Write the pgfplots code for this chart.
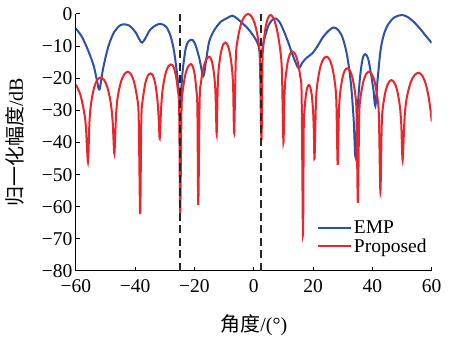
\documentclass[border=0pt]{standalone}
\usepackage{pgfplots}
\pgfplotsset{compat=1.18}
\usepackage{fontspec}
\setmainfont{Liberation Serif}
\newfontfamily\cjk{Noto Sans CJK SC}
\definecolor{empblue}{RGB}{44,79,168}
\definecolor{propred}{RGB}{234,38,44}
\begin{document}
\begin{tikzpicture}
\begin{axis}[
  scale only axis, width=355.9pt, height=257pt,
  xmin=-60, xmax=60, ymin=-80, ymax=0,
  axis x line*=bottom, axis y line*=left,
  xtick={-60,-40,-20,0,20,40,60}, xticklabels={−60,−40,−20,0,20,40,60},
  ytick={-80,-70,-60,-50,-40,-30,-20,-10,0},
  yticklabels={−80,−70,−60,−50,−40,−30,−20,−10,0},
  tick align=inside, major tick length=4pt,
  tick style={line width=1pt, black},
  axis line style={line width=1pt, black},
  ticklabel style={font=\fontsize{19.5}{19.5}\selectfont},
  xticklabel style={yshift=-5.5pt},
  yticklabel style={xshift=0pt, yshift=0pt},
  label style={font=\fontsize{20}{20}\selectfont},
  xlabel={{\cjk 角度}/(°)}, ylabel={{\cjk 归一化幅度}/dB},
  xlabel style={at={(axis description cs:0.5,-0.21)}, anchor=center},
  ylabel style={at={(axis description cs:-0.17,0.5)}, anchor=center},
  legend style={at={(0.677,0.205)}, anchor=north west, draw=none, fill=none,
    font=\fontsize{19.5}{19.5}\selectfont, inner sep=0pt, row sep=0pt},
  legend cell align=left,
  legend image code/.code={\draw[#1] (0pt,0pt) -- (33pt,0pt);},
]
\addplot[empblue, line width=2pt, smooth] coordinates {
(-60,-4.5) (-58,-7) (-56,-11) (-54,-16) (-52.8,-21) (-52,-23.5)
(-50.8,-17) (-49,-10) (-47,-5.5) (-45,-3.5) (-44,-3.2) (-42,-3.6)
(-40,-5.5) (-38.5,-8) (-37.6,-8.9) (-36.5,-7.5) (-35,-5) (-33,-3.5)
(-31.3,-3.1) (-29.5,-4) (-28,-7) (-26.8,-12) (-25.8,-19) (-24.8,-26.5)
(-24,-18) (-23,-11) (-22,-8.5) (-20.6,-8.1) (-19.5,-10) (-18.3,-14)
(-17,-19.3) (-16,-14) (-15,-8.5) (-13.3,-5) (-11.1,-2.4) (-9,-1.3)
(-7.2,-0.5) (-5.5,-1.5) (-4.4,-2.4) (-2,-4.5) (0.1,-7.1) (1.5,-9.5)
(2.4,-13) (3.5,-8) (5,-3.5) (6.3,-1.8) (7.4,-1.4) (8.7,-2.5) (10,-5)
(11.5,-8.5) (13,-12.5) (14.3,-15.5) (15.2,-16.9) (16.5,-15) (18,-13.5)
(19.7,-12.3) (21.5,-10) (23.5,-7) (25.5,-5) (27,-4.2) (28.5,-5)
(30,-7.5) (31.5,-13) (32.8,-22) (33.7,-33) (34.3,-44.4) (35,-30)
(35.8,-20) (36.7,-14) (37.6,-12.5) (38.6,-14) (39.6,-19) (40.4,-24)
(41,-28.7) (41.8,-20) (42.8,-11) (44,-6) (45.5,-3) (47.5,-1) (50,-0.3)
(52,-1) (54,-2.5) (56,-4.5) (58,-6.8) (60,-9)
};
\addlegendentry{EMP}
\addplot[propred, line width=2pt, smooth] coordinates {
(-60,-22) (-58.5,-25) (-57.3,-30) (-56.6,-35) (-55.9,-46)
(-55.4,-33.8) (-54.85,-27.8) (-53.8,-22.8) (-52.75,-20.5) (-51.7,-19.8)
(-50.5,-20.5) (-49.35,-22.8) (-48.2,-27.8) (-47.55,-33.8) (-47,-43.4)
(-46.45,-32) (-45.9,-26) (-44.75,-21) (-43.6,-18.7) (-42.5,-18)
(-41.45,-18.7) (-40.4,-21) (-39.35,-26) (-38.8,-32) (-38.3,-62.3)
(-37.9,-32.5) (-37.4,-26.5) (-36.55,-21.5) (-35.7,-19.2) (-34.8,-18.5)
(-34.0,-19.2) (-33.25,-21.5) (-32.5,-26.5) (-32.05,-32.5) (-31.7,-38.7)
(-31.25,-29.7) (-30.75,-23.7) (-29.8,-18.7) (-28.85,-16.4) (-27.9,-15.7)
(-27.1,-16.4) (-26.35,-18.7) (-25.6,-23.7) (-25.15,-29.7) (-24.8,-62)
(-24.35,-29.6) (-23.9,-23.6) (-23.0,-18.6) (-22.1,-16.3) (-21.2,-15.6)
(-20.6,-16.3) (-19.95,-18.6) (-19.35,-23.6) (-19.0,-29.6) (-18.7,-59.5)
(-18.25,-27.3) (-17.8,-21.3) (-16.85,-16.3) (-15.9,-14) (-15,-13.3)
(-14.4,-14) (-13.75,-16.3) (-13.1,-21.3) (-12.8,-27.3) (-12.5,-37.4)
(-12.15,-22.9) (-11.8,-16.9) (-11.05,-11.9) (-10.35,-9.6) (-9.6,-8.9)
(-8.85,-9.6) (-8.1,-11.9) (-7.35,-16.9) (-6.95,-22.9) (-6.6,-37)
(-6.05,-14) (-5.45,-8) (-4.25,-3) (-3.05,-0.7) (-1.9,0)
(-0.8,-0.7) (0.35,-3) (1.5,-8) (2.05,-14) (2.6,-39.3)
(2.95,-14.3) (3.4,-8.3) (4.15,-3.3) (4.95,-1) (5.7,-0.3)
(6.75,-1.5) (7.85,-5) (8.9,-11) (9.5,-18) (10,-40)
(10.35,-25.7) (10.75,-19.7) (11.5,-14.7) (12.25,-12.4) (13,-11.7)
(13.9,-12.4) (14.8,-14.7) (15.7,-19.7) (16.15,-25.7) (16.6,-68.8)
(16.85,-36.1) (17.1,-30.1) (17.6,-25.1) (18.1,-22.8) (18.6,-22.1)
(19.05,-22.8) (19.55,-25.1) (20.0,-30.1) (20.25,-36.1) (20.5,-45)
(20.98,-27.3) (21.5,-21.3) (22.5,-16.3) (23.5,-14) (24.5,-13.3)
(25.45,-14) (26.4,-16.3) (27.35,-21.3) (27.85,-27.3) (28.3,-47)
(28.7,-30.9) (29.1,-24.9) (29.9,-19.9) (30.7,-17.6) (31.5,-16.9)
(32.4,-17.6) (33.3,-19.9) (34.2,-24.9) (34.65,-30.9) (35.1,-58.8)
(35.55,-32) (36.0,-26) (36.95,-21) (37.9,-18.7) (38.8,-18)
(39.75,-18.7) (40.75,-21) (41.7,-26) (42.2,-32) (42.7,-55.3)
(43.15,-34.6) (43.6,-28.6) (44.55,-23.6) (45.5,-21.3) (46.4,-20.6)
(47.35,-21.3) (48.3,-23.6) (49.25,-28.6) (49.75,-34.6) (50.2,-45.5)
(50.85,-32.3) (51.55,-26.3) (52.9,-21.3) (54.25,-19) (55.6,-18.3)
(56.8,-19.2) (57.9,-21.5) (58.9,-25.5) (59.6,-30) (60,-33.5)
};
\addlegendentry{Proposed}
\addplot[black!85, line width=2pt, dash pattern=on 8pt off 4.5pt, forget plot] coordinates {(-24.8,-80) (-24.8,0)};
\addplot[black!85, line width=2pt, dash pattern=on 8pt off 4.5pt, forget plot] coordinates {(2.6,-80) (2.6,0)};
\end{axis}
\path ([xshift=-75.8pt,yshift=-65pt]current axis.south west) rectangle ([xshift=21.3pt,yshift=14pt]current axis.north east);
\end{tikzpicture}
\end{document}
